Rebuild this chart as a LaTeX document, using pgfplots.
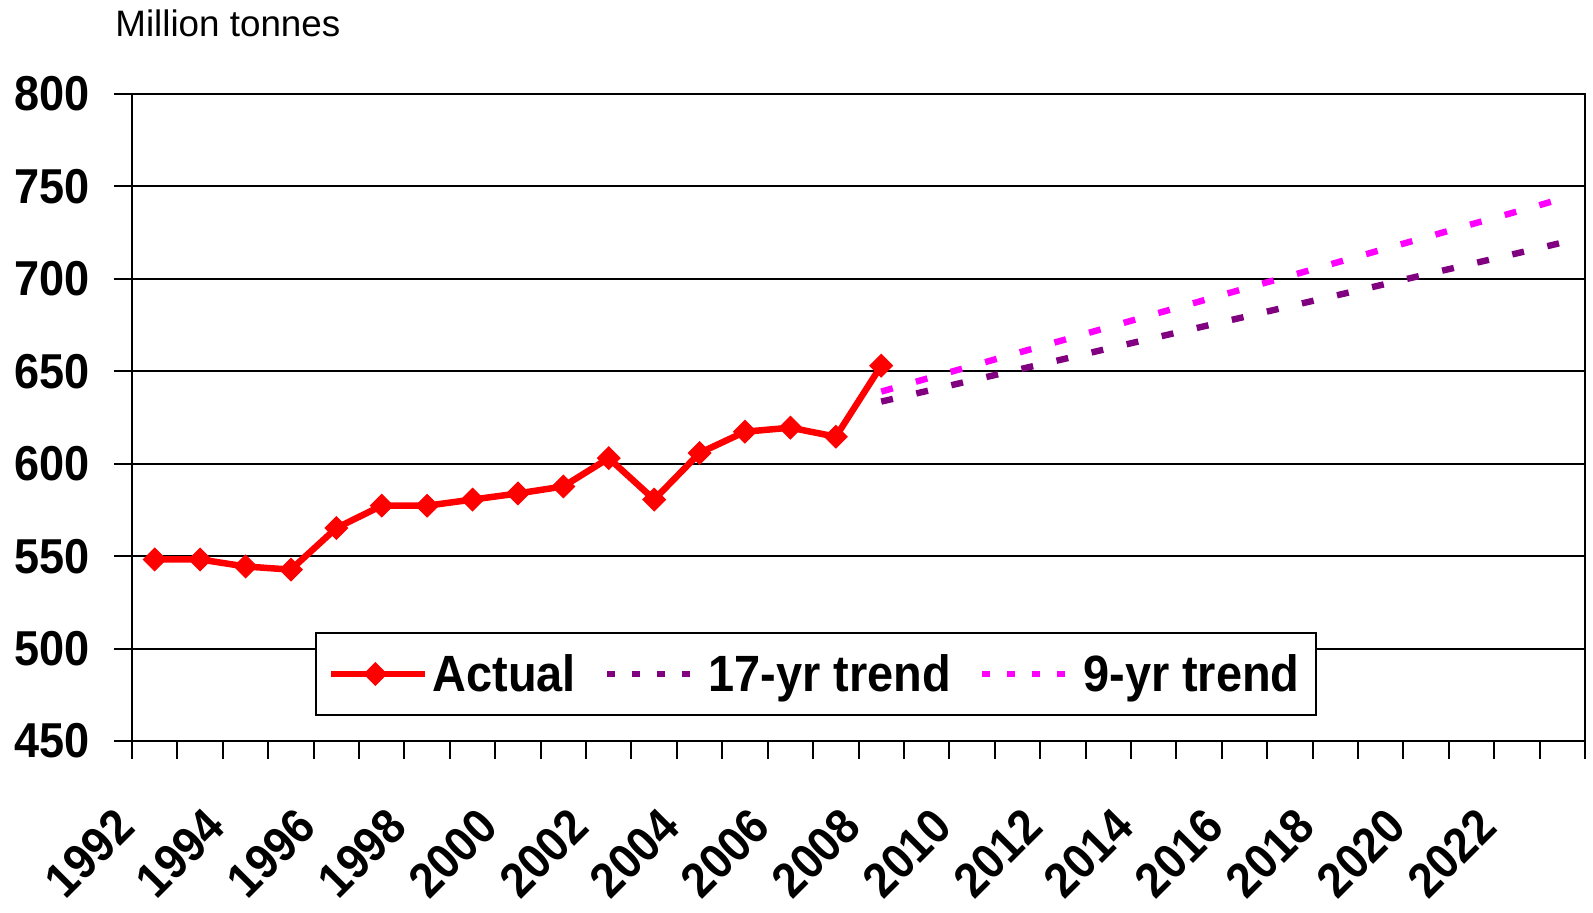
\documentclass[border=0pt]{standalone}
\usepackage{fontspec}
\setmainfont{Liberation Sans}
\newfontfamily\tickfont{Liberation Sans Bold}[FakeStretch=0.92]
\newfontfamily\legfont{Liberation Sans Bold}[FakeStretch=0.92]
\usepackage{pgfplots}
\pgfplotsset{compat=1.18}
\definecolor{actualred}{RGB}{255,0,0}
\definecolor{trendpurple}{RGB}{128,0,128}
\definecolor{trendpink}{RGB}{255,0,255}

\begin{document}
\begin{tikzpicture}
\begin{axis}[
  scale only axis,
  width=726.5pt, height=323.5pt,
  xmin=1991.5, xmax=2023.5,
  ymin=450, ymax=800,
  ytick={450,500,...,800},
  xtick={1992,1994,...,2022},
  minor xtick={1991.5,1992.5,...,2023.5},
  major x tick style={draw=none},
  tick pos=left,
  tick align=outside,
  major tick length=9pt, minor tick length=9pt,
  tick style={black, line width=1pt},
  ymajorgrids,
  grid style={black, line width=1pt},
  axis line style={line width=1.2pt},
  /pgf/number format/assume math mode=true,
  /pgf/number format/1000 sep={},
  ticklabel style={font=\tickfont\fontsize{24.5}{28}\selectfont, inner sep=0pt},
  yticklabel style={anchor=east, xshift=-12pt},
  xticklabel style={xshift=-21pt, yshift=-23pt, rotate=45, anchor=north east},
  legend columns=3,
  legend style={at={(0.126,0.0386)}, anchor=south west, draw=black,
    line width=1pt, fill=white, font=\legfont\fontsize{25.5}{30}\selectfont,
    inner xsep=6pt, inner ysep=8.5pt,
    /tikz/every even column/.append style={column sep=12pt}},
  legend image code/.code={\path (0pt,0pt) -- (47pt,0pt);
    \draw[mark repeat=2,mark phase=2,#1]
    plot coordinates {(0pt,0pt) (22pt,0pt) (44pt,0pt)};},
  clip=false,
]
% actual annual values
\addplot[actualred, line width=3.25pt, mark=square*, mark size=4pt,
  mark options={solid, rotate=45, fill=actualred, line width=0.5pt}]
  coordinates {
  (1992,548.2) (1993,548.2) (1994,544.4) (1995,542.7) (1996,565.2)
  (1997,577.3) (1998,577.3) (1999,580.6) (2000,583.9) (2001,587.7)
  (2002,603.0) (2003,580.6) (2004,605.8) (2005,617.3) (2006,619.5)
  (2007,614.6) (2008,653.0)};
% 17-yr trend
\addplot[trendpurple, line width=3.2pt, dash pattern=on 6pt off 12pt,
  legend image post style={dash pattern=on 4pt off 8.5pt}]
  coordinates {
  (2008,633.6) (2009,639.3) (2010,645.1) (2011,650.8) (2012,656.5)
  (2013,662.3) (2014,668.0) (2015,673.7) (2016,679.4) (2017,685.2)
  (2018,690.9) (2019,696.6) (2020,702.4) (2021,708.1) (2022,713.8)
  (2023,719.6)};
% 9-yr trend
\addplot[trendpink, line width=3.2pt, dash pattern=on 6pt off 12pt,
  legend image post style={dash pattern=on 4pt off 8.5pt}]
  coordinates {
  (2008,639.0) (2009,646.0) (2010,652.9) (2011,659.9) (2012,666.8)
  (2013,673.8) (2014,680.8) (2015,687.7) (2016,694.7) (2017,701.6)
  (2018,708.6) (2019,715.6) (2020,722.5) (2021,729.5) (2022,736.4)
  (2023,743.4)};
\legend{Actual, 17-yr trend, 9-yr trend}
\node[anchor=base west, inner sep=0pt, xshift=-8.5pt, yshift=28.7pt,
  font=\fontsize{18.4}{22}\selectfont] at (rel axis cs:0,1) {Million tonnes};
\end{axis}
\pgfresetboundingbox
\path ([xshift=-66pt,yshift=-86pt]current axis.south west)
  rectangle ([xshift=4pt,yshift=47pt]current axis.north east);
\end{tikzpicture}
\end{document}
